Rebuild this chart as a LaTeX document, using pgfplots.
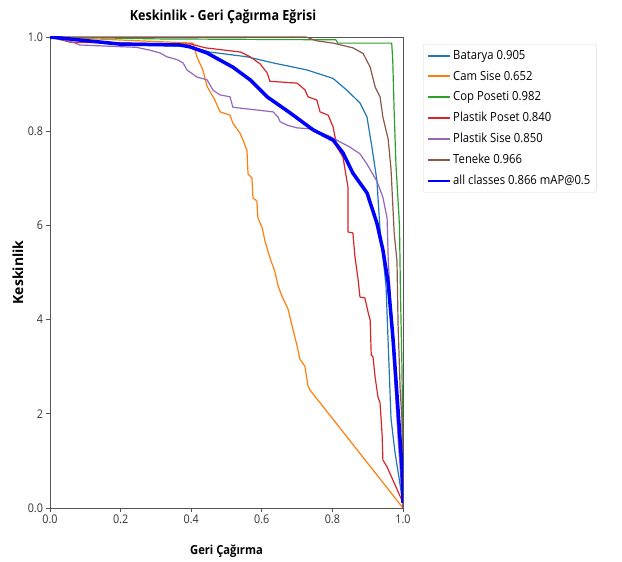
\documentclass[border=0pt]{standalone}
\usepackage{fontspec}
\setmainfont{Open Sans}[FakeStretch=0.9]
\newfontfamily\ylfont{Open Sans}
\usepackage{pgfplots}
\pgfplotsset{compat=1.18}
\definecolor{cBat}{HTML}{1F77B4}
\definecolor{cCam}{HTML}{FF7F0E}
\definecolor{cCop}{HTML}{2CA02C}
\definecolor{cPP}{HTML}{D62728}
\definecolor{cPS}{HTML}{9467BD}
\definecolor{cTen}{HTML}{8C564B}
\definecolor{spine}{HTML}{555555}
\begin{document}
\begin{tikzpicture}
\useasboundingbox (0,0) rectangle (622bp,562bp);
\node[font=\fontsize{14}{16}\selectfont\bfseries] at (223bp,545bp) {Keskinlik - Geri Çağırma Eğrisi};
\begin{axis}[
  at={(50bp,54bp)}, anchor=south west,
  width=353bp, height=471bp, scale only axis,
  xmin=0, xmax=1, ymin=0, ymax=1,
  axis line style={draw=spine, line width=0.9bp},
  tick align=outside, tick pos=left,
  major tick length=3.5bp,
  every tick/.style={draw=spine, line width=0.8bp},
  xtick={0,0.2,0.4,0.6,0.8,1.0},
  xticklabels={0.0,0.2,0.4,0.6,0.8,1.0},
  ytick={0,0.2,0.4,0.6,0.8,1.0},
  yticklabels={0.0,2,4,6,0.8,1.0},
  tick label style={font=\fontsize{12}{14}\selectfont, text=black!80},
  xlabel={Geri Çağırma},
  ylabel={Keskinlik},
  every axis y label/.style={at={(-32bp,0.5)}, rotate=90, anchor=center, font=\fontsize{14}{15}\ylfont\bfseries},
  every axis x label/.style={at={(0.5,0)}, anchor=center, yshift=-43bp, font=\fontsize{12.5}{14}\selectfont\bfseries},
  legend style={at={(1.0567,0.985)}, anchor=north west, draw=black!15, rounded corners=2bp,
    font=\fontsize{12.6}{14}\selectfont, row sep=6bp, inner xsep=4bp, inner ysep=4bp},
  legend cell align=left,
  legend image code/.code={\draw[#1, line width=2bp] (0bp,0bp) -- (22bp,0bp);},
  every axis plot/.append style={line width=1.2bp, line join=round},
]
\addplot[cBat] coordinates {(0,1.0)(0.085,0.994)(0.17,0.985)(0.397,0.98)(0.453,0.968)(0.558,0.958)(0.632,0.945)(0.728,0.93)(0.802,0.912)(0.841,0.887)(0.878,0.86)(0.898,0.83)(0.912,0.766)(0.926,0.696)(0.935,0.59)(0.941,0.55)(0.952,0.47)(0.957,0.37)(0.966,0.19)(0.977,0.12)(1.0,0.01)};
\addlegendentry{Batarya 0.905}
\addplot[cCam] coordinates {(0,1.0)(0.405,0.987)(0.416,0.958)(0.433,0.93)(0.445,0.895)(0.462,0.873)(0.467,0.866)(0.482,0.841)(0.51,0.834)(0.518,0.817)(0.538,0.796)(0.547,0.781)(0.558,0.759)(0.561,0.709)(0.572,0.701)(0.575,0.658)(0.586,0.652)(0.589,0.616)(0.601,0.595)(0.609,0.567)(0.623,0.531)(0.637,0.502)(0.646,0.472)(0.657,0.45)(0.674,0.423)(0.688,0.38)(0.700,0.344)(0.708,0.316)(0.722,0.301)(0.731,0.259)(0.737,0.25)(1.0,0.0)};
\addlegendentry{Cam Sise 0.652}
\addplot[cCop] coordinates {(0,1.0)(0.3,0.996)(0.81,0.994)(0.815,0.987)(0.968,0.987)(0.971,0.95)(0.975,0.84)(0.98,0.73)(0.99,0.6)(0.993,0.45)(0.997,0.3)(1.0,0.1)(1.0,0.0)};
\addlegendentry{Cop Poseti 0.982}
\addplot[cPP] coordinates {(0,1.0)(0.057,0.989)(0.40,0.985)(0.44,0.977)(0.54,0.968)(0.567,0.958)(0.595,0.943)(0.615,0.924)(0.623,0.906)(0.70,0.902)(0.722,0.888)(0.731,0.873)(0.756,0.866)(0.765,0.841)(0.788,0.834)(0.802,0.809)(0.813,0.766)(0.830,0.745)(0.836,0.718)(0.844,0.682)(0.844,0.586)(0.858,0.584)(0.864,0.533)(0.873,0.484)(0.878,0.448)(0.892,0.446)(0.901,0.416)(0.907,0.399)(0.91,0.325)(0.915,0.321)(0.921,0.278)(0.929,0.236)(0.935,0.223)(0.941,0.153)(0.943,0.102)(0.955,0.087)(1.0,0.011)};
\addlegendentry{Plastik Poset 0.840}
\addplot[cPS] coordinates {(0,1.0)(0.06,0.99)(0.085,0.983)(0.246,0.978)(0.283,0.972)(0.312,0.966)(0.331,0.958)(0.36,0.952)(0.377,0.945)(0.388,0.93)(0.416,0.915)(0.445,0.909)(0.462,0.887)(0.482,0.877)(0.51,0.873)(0.518,0.851)(0.538,0.849)(0.586,0.845)(0.632,0.841)(0.646,0.83)(0.652,0.820)(0.671,0.813)(0.700,0.807)(0.737,0.805)(0.79,0.79)(0.85,0.766)(0.878,0.752)(0.898,0.73)(0.926,0.694)(0.943,0.66)(0.955,0.615)(0.958,0.53)(0.966,0.42)(0.97,0.35)(0.975,0.29)(0.986,0.15)(1.0,0.0)};
\addlegendentry{Plastik Sise 0.850}
\addplot[cTen] coordinates {(0,1.0)(0.725,1.0)(0.754,0.992)(0.802,0.987)(0.858,0.977)(0.887,0.965)(0.907,0.936)(0.921,0.894)(0.935,0.873)(0.943,0.83)(0.958,0.783)(0.966,0.72)(0.975,0.584)(0.983,0.524)(0.986,0.39)(0.992,0.25)(0.997,0.19)(1.0,0.0)};
\addlegendentry{Teneke 0.966}
\addplot[blue, line width=3.5bp] coordinates {(0,1.0)(0.198,0.985)(0.368,0.983)(0.397,0.979)(0.445,0.966)(0.518,0.936)(0.567,0.909)(0.615,0.873)(0.680,0.839)(0.745,0.803)(0.802,0.781)(0.830,0.754)(0.858,0.711)(0.898,0.669)(0.926,0.605)(0.943,0.548)(0.958,0.478)(0.972,0.357)(0.986,0.208)(0.997,0.087)(1.0,0.011)};
\addlegendentry{all classes 0.866 mAP@0.5}
\end{axis}
\end{tikzpicture}
\end{document}
